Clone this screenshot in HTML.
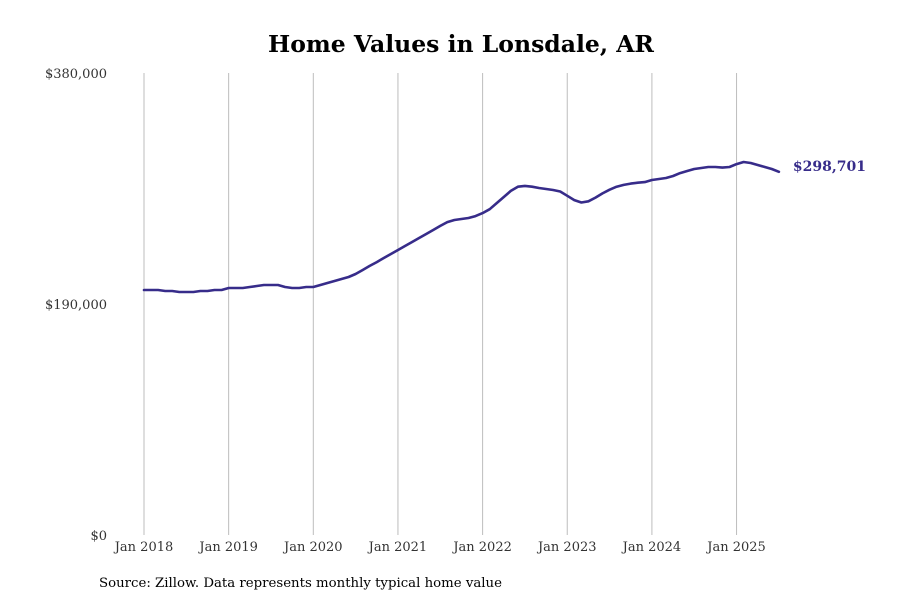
<!DOCTYPE html>
<html><head><meta charset="utf-8"><style>
body{margin:0;background:#fff;}
svg text{font-family:"DejaVu Serif","Liberation Serif",serif;}
</style></head><body>
<svg width="900" height="600" viewBox="0 0 900 600">
<rect width="900" height="600" fill="#fff"/>
<text x="461" y="52" text-anchor="middle" font-size="23.5" font-weight="bold" fill="#000">Home Values in Lonsdale, AR</text>
<g id="grid"></g><g id="yaxis"></g><g id="xaxis"></g><g id="series"></g>
<text x="99" y="587" font-size="13.3" fill="#000">Source: Zillow. Data represents monthly typical home value</text>
</svg>
<script>
const yTicks=[0,190000,380000];
const yTickLabels=["$0","$190,000","$380,000"];
const xTickLabels=["Jan 2018","Jan 2019","Jan 2020","Jan 2021","Jan 2022","Jan 2023","Jan 2024","Jan 2025"];
const values=[201.5,201.5,201.5,200.7,200.7,199.9,199.9,199.9,200.7,200.7,201.5,201.5,
203.2,203.2,203.2,204.0,204.8,205.6,205.6,205.6,204.0,203.2,203.2,204.0,
204.0,205.6,207.3,208.9,210.6,212.2,214.7,218.0,221.3,224.5,227.8,231.1,
234.4,237.7,241.0,244.3,247.6,250.9,254.2,257.4,259.1,259.9,260.7,262.3,
264.8,268.0,273.0,278.0,283.0,286.5,287.1,286.5,285.4,284.6,283.8,282.5,
279.0,275.5,273.5,274.5,277.5,281.0,284.0,286.5,288.0,289.0,289.8,290.3,
292.0,292.8,293.6,295.3,297.7,299.4,301.0,301.9,302.7,302.7,302.2,302.7,
305.1,306.8,306.0,304.3,302.7,301.0,298.701];
const lastLabel="$298,701";
const NS="http://www.w3.org/2000/svg";
const x0=144,pxPerMonth=84.65/12,yBase=535,yTop=73,yMax=380000;
const xs=m=>x0+m*pxPerMonth;
const ys=v=>yBase-(v/yMax)*(yBase-yTop);
function mk(tag,attrs,parent){const e=document.createElementNS(NS,tag);for(const k in attrs)e.setAttribute(k,attrs[k]);document.getElementById(parent).appendChild(e);return e;}
xTickLabels.forEach((l,i)=>{
 const x=xs(i*12);
 const g=mk('line',{x1:x,x2:x,y1:yTop,y2:yBase,stroke:'#bdbdbd','stroke-width':1},'grid');
 
 
 const t=mk('text',{x:x,y:551,'text-anchor':'middle','font-size':13,fill:'#333'},'xaxis');
 t.textContent=l;
 
 
});
yTicks.forEach((v,i)=>{
 const t=mk('text',{x:107,y:ys(v)+5,'text-anchor':'end','font-size':13,fill:'#333'},'yaxis');
 t.textContent=yTickLabels[i];
 
 
});
let d=values.map((v,i)=>(i?'L':'M')+xs(i).toFixed(1)+' '+ys(v*1000).toFixed(1)).join(' ');
const p=mk('path',{d:d,fill:'none',stroke:'#372c8a','stroke-width':2.6,'stroke-linejoin':'round','stroke-linecap':'round'},'series');


const li=values.length-1;
const lt=mk('text',{x:xs(li)+14,y:ys(values[li]*1000)-1,'font-size':14,'font-weight':'bold',fill:'#372c8a'},'series');
lt.textContent=lastLabel;


</script>
</body></html>
